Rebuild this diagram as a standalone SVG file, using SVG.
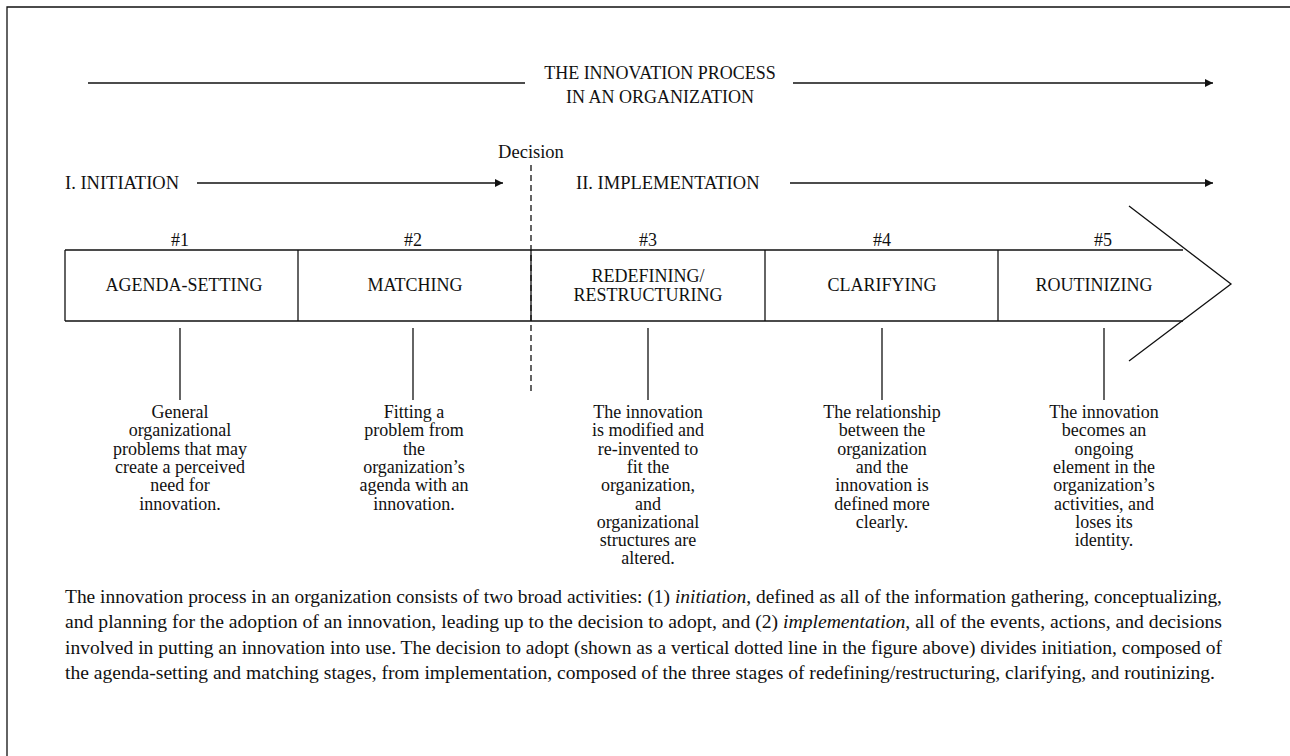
<svg xmlns="http://www.w3.org/2000/svg" width="1290" height="756" viewBox="0 0 1290 756">
<style>
text{font-family:"Liberation Serif","Times New Roman",serif;fill:#111}
.lbl{font-size:18px;text-anchor:middle}
.desc{font-size:18px;text-anchor:middle}
.cap{font-size:19px}
.ln{stroke:#111;stroke-width:1.3;fill:none}
</style>
<defs>
<marker id="ah" viewBox="0 0 10 10" refX="10" refY="5" markerWidth="10" markerHeight="8" markerUnits="userSpaceOnUse" orient="auto"><path d="M0,0 L10,5 L0,10 z" fill="#111"/></marker>
</defs>
<rect width="1290" height="756" fill="#fff"/>
<path d="M7,756 V7 H1290" class="ln" stroke-width="1.5"/>
<g id="title">
<text class="lbl" x="660" y="79" font-size="18.5">THE INNOVATION PROCESS</text>
<text class="lbl" x="660" y="103" font-size="18.5">IN AN ORGANIZATION</text>
</g>
<g id="connectors">
<line x1="88" y1="83" x2="525" y2="83" class="ln" stroke-width="2"/>
<line x1="793" y1="83" x2="1213" y2="83" class="ln" stroke-width="2" marker-end="url(#ah)"/>
<line x1="197" y1="183" x2="503" y2="183" class="ln" marker-end="url(#ah)"/>
<line x1="790" y1="183" x2="1213" y2="183" class="ln" marker-end="url(#ah)"/>
<line x1="531" y1="165" x2="531" y2="392" class="ln" stroke-dasharray="6,4"/>
<line x1="180" y1="328" x2="180" y2="400" class="ln"/>
<line x1="413" y1="328" x2="413" y2="400" class="ln"/>
<line x1="648" y1="328" x2="648" y2="400" class="ln"/>
<line x1="882" y1="328" x2="882" y2="400" class="ln"/>
<line x1="1104" y1="328" x2="1104" y2="400" class="ln"/>
</g>
<g id="phases">
<text x="531" y="158" font-size="18.5" text-anchor="middle">Decision</text>
<text x="65" y="189" font-size="18.5">I. INITIATION</text>
<text x="576" y="189" font-size="18.5">II. IMPLEMENTATION</text>
</g>
<g id="bar">
<path d="M65,250 H1183 M65,321 H1183 M65,250 V321" class="ln"/>
<path d="M1129,206 L1231,284 L1129,361" class="ln"/>
</g>
<g id="stage1">
<line x1="298" y1="250" x2="298" y2="321" class="ln"/>
<text class="lbl" x="180" y="246">#1</text>
<text class="lbl" x="184" y="291">AGENDA-SETTING</text>
<text class="desc" y="418"><tspan x="180">General</tspan><tspan x="180" dy="18.3">organizational</tspan><tspan x="180" dy="18.3">problems that may</tspan><tspan x="180" dy="18.3">create a perceived</tspan><tspan x="180" dy="18.3">need for</tspan><tspan x="180" dy="18.3">innovation.</tspan></text>
</g>
<g id="stage2">
<line x1="531" y1="250" x2="531" y2="321" class="ln"/>
<text class="lbl" x="413" y="246">#2</text>
<text class="lbl" x="415" y="291">MATCHING</text>
<text class="desc" y="418"><tspan x="414">Fitting a</tspan><tspan x="414" dy="18.3">problem from</tspan><tspan x="414" dy="18.3">the</tspan><tspan x="414" dy="18.3">organization’s</tspan><tspan x="414" dy="18.3">agenda with an</tspan><tspan x="414" dy="18.3">innovation.</tspan></text>
</g>
<g id="stage3">
<line x1="765" y1="250" x2="765" y2="321" class="ln"/>
<text class="lbl" x="648" y="246">#3</text>
<text class="lbl" x="648" y="282">REDEFINING/</text>
<text class="lbl" x="648" y="301">RESTRUCTURING</text>
<text class="desc" y="418"><tspan x="648">The innovation</tspan><tspan x="648" dy="18.3">is modified and</tspan><tspan x="648" dy="18.3">re-invented to</tspan><tspan x="648" dy="18.3">fit the</tspan><tspan x="648" dy="18.3">organization,</tspan><tspan x="648" dy="18.3">and</tspan><tspan x="648" dy="18.3">organizational</tspan><tspan x="648" dy="18.3">structures are</tspan><tspan x="648" dy="18.3">altered.</tspan></text>
</g>
<g id="stage4">
<line x1="998" y1="250" x2="998" y2="321" class="ln"/>
<text class="lbl" x="882" y="246">#4</text>
<text class="lbl" x="882" y="291">CLARIFYING</text>
<text class="desc" y="418"><tspan x="882">The relationship</tspan><tspan x="882" dy="18.3">between the</tspan><tspan x="882" dy="18.3">organization</tspan><tspan x="882" dy="18.3">and the</tspan><tspan x="882" dy="18.3">innovation is</tspan><tspan x="882" dy="18.3">defined more</tspan><tspan x="882" dy="18.3">clearly.</tspan></text>
</g>
<g id="stage5">
<text class="lbl" x="1103" y="246">#5</text>
<text class="lbl" x="1094" y="291">ROUTINIZING</text>
<text class="desc" y="418"><tspan x="1104">The innovation</tspan><tspan x="1104" dy="18.3">becomes an</tspan><tspan x="1104" dy="18.3">ongoing</tspan><tspan x="1104" dy="18.3">element in the</tspan><tspan x="1104" dy="18.3">organization’s</tspan><tspan x="1104" dy="18.3">activities, and</tspan><tspan x="1104" dy="18.3">loses its</tspan><tspan x="1104" dy="18.3">identity.</tspan></text>
</g>
<g id="caption">
<text class="cap" x="65" y="603" textLength="1157" lengthAdjust="spacingAndGlyphs">The innovation process in an organization consists of two broad activities: (1) <tspan font-style="italic">initiation</tspan>, defined as all of the information gathering, conceptualizing,</text>
<text class="cap" x="65" y="628" textLength="1157" lengthAdjust="spacingAndGlyphs">and planning for the adoption of an innovation, leading up to the decision to adopt, and (2) <tspan font-style="italic">implementation</tspan>, all of the events, actions, and decisions</text>
<text class="cap" x="65" y="654" textLength="1157" lengthAdjust="spacingAndGlyphs">involved in putting an innovation into use. The decision to adopt (shown as a vertical dotted line in the figure above) divides initiation, composed of</text>
<text class="cap" x="65" y="679" textLength="1150" lengthAdjust="spacingAndGlyphs">the agenda-setting and matching stages, from implementation, composed of the three stages of redefining/restructuring, clarifying, and routinizing.</text>
</g>
</svg>
